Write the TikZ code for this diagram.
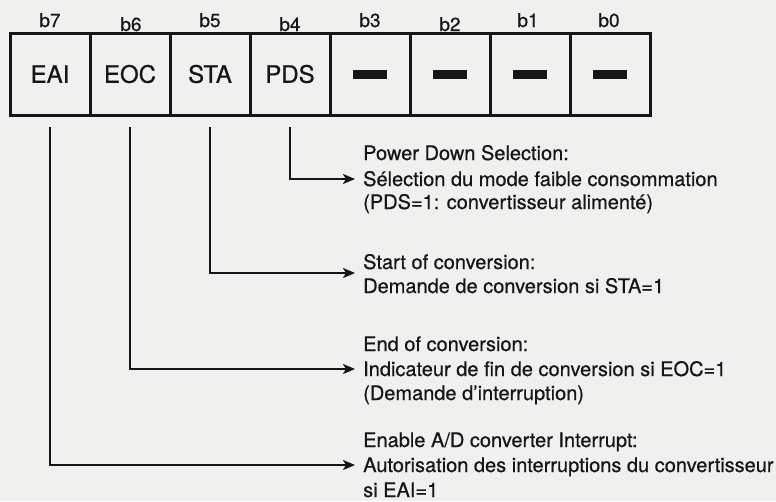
\documentclass[tikz,border=0pt]{standalone}
\usepackage{fontspec}
\setmainfont{TeX Gyre Heros}[FakeBold=0.6]
\usetikzlibrary{arrows.meta}
\definecolor{bgc}{RGB}{240,240,238}
\definecolor{ink}{RGB}{22,22,22}
\newcommand\regbar{\rule[-4.5pt]{34pt}{9pt}}
\begin{document}
\begin{tikzpicture}[x=1pt,y=-1pt,
  cell/.style={draw=ink, line width=3pt, minimum width=80pt, minimum height=82pt,
    inner sep=0pt, font=\fontsize{24}{28}\selectfont, text=ink},
  bitlbl/.style={anchor=base, inner sep=0pt, font=\fontsize{19}{22}\selectfont, text=ink},
  desc/.style={anchor=base west, inner sep=0pt, font=\fontsize{20}{24}\selectfont, text=ink},
  conn/.style={draw=ink, line width=2.2pt, shorten <=10pt,
    -{Stealth[length=12pt,width=10pt,inset=3pt]}}]
\fill[bgc] (0,0) rectangle (776,501);
\useasboundingbox (0,0) rectangle (776,501);

% register cells
\node[cell] (c7) at (50,74)  {EAI};
\node[cell] (c6) at (130,74) {EOC};
\node[cell] (c5) at (210,74) {STA};
\node[cell] (c4) at (290,74) {PDS};
\node[cell] (c3) at (370,74) {\regbar};
\node[cell] (c2) at (450,74) {\regbar};
\node[cell] (c1) at (530,74) {\regbar};
\node[cell] (c0) at (610,74) {\regbar};

% bit labels
\node[bitlbl] (l7) at (50,27)  {b7};
\node[bitlbl] (l6) at (131,31) {b6};
\node[bitlbl] (l5) at (210,27) {b5};
\node[bitlbl] (l4) at (290,31) {b4};
\node[bitlbl] (l3) at (370,27) {b3};
\node[bitlbl] (l2) at (450,31) {b2};
\node[bitlbl] (l1) at (528,27) {b1};
\node[bitlbl] (l0) at (609,27) {b0};

% arrow targets
\coordinate (a4) at (355,179);
\coordinate (a5) at (355,273);
\coordinate (a6) at (355,369);
\coordinate (a7) at (355,465);

% connectors
\draw[conn] (c4.south) |- (a4);
\draw[conn] (c5.south) |- (a5);
\draw[conn] (c6.south) |- (a6);
\draw[conn] (c7.south) |- (a7);

% descriptions
\node[desc] (d4a) at (363,160) {Power Down Selection:};
\node[desc] (d4b) at (363,186) {Sélection du mode faible consommation};
\node[desc] (d4c) at (363,209) {(PDS=1: convertisseur alimenté)};

\node[desc] (d5a) at (363,269) {Start of conversion:};
\node[desc] (d5b) at (363,293) {Demande de conversion si STA=1};

\node[desc] (d6a) at (363,351) {End of conversion:};
\node[desc] (d6b) at (363,376) {Indicateur de fin de conversion si EOC=1};
\node[desc] (d6c) at (363,400) {(Demande d’interruption)};

\node[desc] (d7a) at (363,447) {Enable A/D converter Interrupt:};
\node[desc] (d7b) at (363,472) {Autorisation des interruptions du convertisseur};
\node[desc] (d7c) at (363,497) {si EAI=1};
\end{tikzpicture}
\end{document}
